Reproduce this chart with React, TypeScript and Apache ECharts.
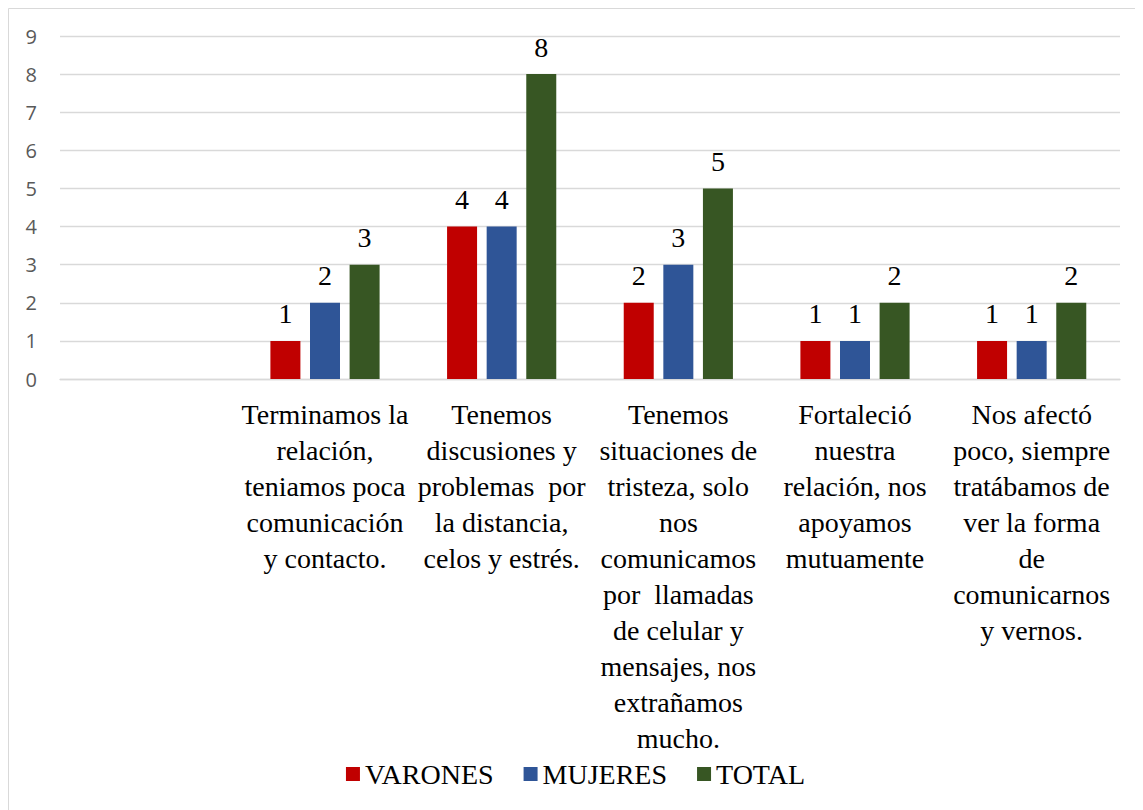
import React, { useEffect, useRef } from "react";
import * as echarts from "echarts";

const categories: string[] = [
  "",
  "Terminamos la\nrelación,\nteniamos poca\ncomunicación\ny contacto.",
  "Tenemos\ndiscusiones y\nproblemas  por\nla distancia,\ncelos y estrés.",
  "Tenemos\nsituaciones de\ntristeza, solo\nnos\ncomunicamos\npor  llamadas\nde celular y\nmensajes, nos\nextrañamos\nmucho.",
  "Fortaleció\nnuestra\nrelación, nos\napoyamos\nmutuamente",
  "Nos afectó\npoco, siempre\ntratábamos de\nver la forma\nde\ncomunicarnos\ny vernos.",
];
const varones: (number | string)[] = ["-", 1, 4, 2, 1, 1];
const mujeres: (number | string)[] = ["-", 2, 4, 3, 1, 1];
const total: (number | string)[] = ["-", 3, 8, 5, 2, 2];
const seriesNames = ["VARONES", "MUJERES", "TOTAL"];
const colors = ["#C00000", "#2F5597", "#375623"];

const serif = "Liberation Serif, DejaVu Serif, serif";

export default function App() {
  const ref = useRef<HTMLDivElement>(null);
  useEffect(() => {
    if (!ref.current) return;
    const chart = echarts.init(ref.current, undefined, { renderer: "svg" });
    const dataSets = [varones, mujeres, total];
    chart.setOption({
      animation: false,
      textStyle: { fontFamily: serif },
      graphic: [
        {
          type: "rect",
          silent: true,
          z: -10,
          shape: { x: 0.5, y: 0.5, width: 1200, height: 900 },
          style: { fill: "none", stroke: "#d9d9d9", lineWidth: 1 },
        },
      ],
      grid: { left: 52, top: 28, width: 1060, height: 343 },
      legend: {
        data: seriesNames,
        left: "center",
        top: 747,
        icon: "rect",
        itemWidth: 14,
        itemHeight: 14,
        itemGap: 30,
        textStyle: { fontFamily: serif, fontSize: 28, color: "#000" },
      },
      xAxis: {
        type: "category",
        data: categories,
        axisLine: { lineStyle: { color: "#d9d9d9", width: 1.3 } },
        axisTick: { show: false },
        axisLabel: {
          interval: 0,
          margin: 17,
          fontFamily: serif,
          fontSize: 28,
          lineHeight: 36,
          color: "#000",
          align: "center",
        },
      },
      yAxis: {
        type: "value",
        min: 0,
        max: 9,
        interval: 1,
        axisLine: { show: false },
        axisTick: { show: false },
        splitLine: { lineStyle: { color: "#d9d9d9", width: 1.3 } },
        axisLabel: {
          margin: 23,
          fontFamily: "Open Sans",
          fontSize: 20,
          color: "#595959",
        },
      },
      series: seriesNames.map((name, i) => ({
        name,
        type: "bar",
        data: dataSets[i],
        barWidth: 30,
        barGap: "32%",
        itemStyle: { color: colors[i] },
        label: {
          show: true,
          position: "top",
          distance: 13,
          fontFamily: serif,
          fontSize: 28,
          color: "#000",
        },
      })),
    });
    return () => chart.dispose();
  }, []);
  return <div ref={ref} style={{ width: 1135, height: 802 }} />;
}
